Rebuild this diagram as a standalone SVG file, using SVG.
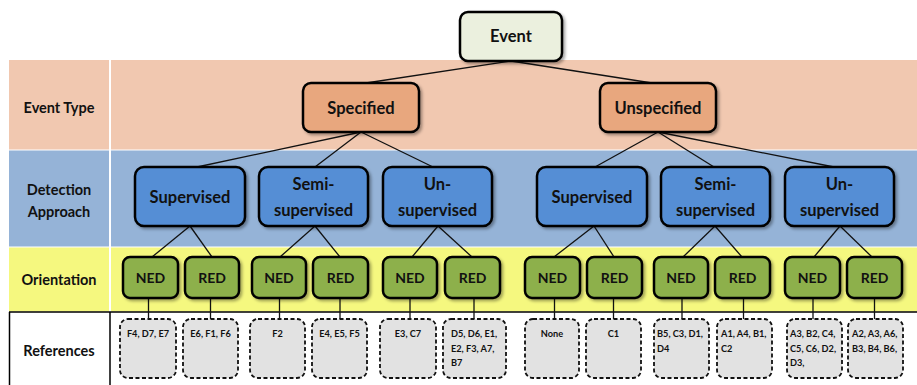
<svg xmlns="http://www.w3.org/2000/svg" width="917" height="385" viewBox="0 0 917 385">
<defs>
<filter id="sh" x="-10%" y="-10%" width="130%" height="140%">
<feDropShadow dx="2" dy="2" stdDeviation="1.5" flood-color="#000" flood-opacity="0.35"/>
</filter>
<style>
text{font-family:Lato,"Open Sans","Liberation Sans",sans-serif;font-weight:bold;fill:#111;text-anchor:middle}
.lab{font-size:14.5px}
.n{stroke:#000;stroke-width:2.5;filter:url(#sh)}
.ev{fill:#ebf0de}
.ty{fill:#e8a77e}
.da{fill:#558ed5}
.or{fill:#8db04b}
.big{font-size:16.5px}
.mid{font-size:14px}
.ref{fill:#e2e2e2;stroke:#111;stroke-width:1.8;stroke-dasharray:4 2.5}
.rt{font-size:9.2px}
.rl{font-size:9.2px;text-anchor:start}
.c line{stroke:#111;stroke-width:1.3}
</style>
</defs>
<rect width="917" height="385" fill="#fff"/>
<!-- bands -->
<g id="bands">
<rect x="9" y="60" width="100" height="89.5" fill="#f1c8b0"/>
<rect x="111" y="60" width="806" height="89.5" fill="#f1c8b0"/>
<rect x="9" y="150.5" width="100" height="96" fill="#95b3d7"/>
<rect x="111" y="150.5" width="806" height="96" fill="#95b3d7"/>
<rect x="9" y="247.5" width="100" height="64" fill="#f5f87f"/>
<rect x="111" y="247.5" width="806" height="64" fill="#f5f87f"/>
<line x1="9" y1="312" x2="917" y2="312" stroke="#000" stroke-width="1.5"/>
<line x1="9.5" y1="312" x2="9.5" y2="385" stroke="#000" stroke-width="1.5"/>
<line x1="110" y1="312" x2="110" y2="385" stroke="#000" stroke-width="1.5"/>
<text class="lab" x="59" y="113">Event Type</text>
<text class="lab" x="59" y="195">Detection</text>
<text class="lab" x="59" y="217">Approach</text>
<text class="lab" x="59" y="285">Orientation</text>
<text class="lab" x="59" y="356">References</text>
</g>
<!-- connectors -->
<g id="connectors" class="c">
<line x1="511" y1="61" x2="366" y2="83"/>
<line x1="511" y1="61" x2="652" y2="83"/>
<line x1="361" y1="132" x2="197" y2="167"/>
<line x1="361" y1="132" x2="315" y2="167"/>
<line x1="361" y1="132" x2="433" y2="167"/>
<line x1="658" y1="132" x2="595" y2="167"/>
<line x1="658" y1="132" x2="714" y2="167"/>
<line x1="658" y1="132" x2="834" y2="167"/>
<line x1="190" y1="226" x2="152" y2="257"/>
<line x1="190" y1="226" x2="212" y2="257"/>
<line x1="315" y1="226" x2="280" y2="257"/>
<line x1="315" y1="226" x2="340" y2="257"/>
<line x1="438" y1="226" x2="412" y2="257"/>
<line x1="438" y1="226" x2="472" y2="257"/>
<line x1="594" y1="226" x2="554" y2="257"/>
<line x1="594" y1="226" x2="614" y2="257"/>
<line x1="715" y1="226" x2="683" y2="257"/>
<line x1="715" y1="226" x2="742" y2="257"/>
<line x1="840" y1="226" x2="814" y2="257"/>
<line x1="840" y1="226" x2="872" y2="257"/>
<line x1="148.5" y1="298" x2="148.5" y2="319"/>
<line x1="210.5" y1="298" x2="210.5" y2="319"/>
<line x1="279.5" y1="298" x2="279.5" y2="319"/>
<line x1="340" y1="298" x2="340" y2="319"/>
<line x1="410" y1="298" x2="410" y2="319"/>
<line x1="474" y1="298" x2="474" y2="319"/>
<line x1="554.5" y1="298" x2="554.5" y2="319"/>
<line x1="613.5" y1="298" x2="613.5" y2="319"/>
<line x1="682" y1="298" x2="682" y2="319"/>
<line x1="743.5" y1="298" x2="743.5" y2="319"/>
<line x1="813" y1="298" x2="813" y2="319"/>
<line x1="874.5" y1="298" x2="874.5" y2="319"/>
</g>
<!-- nodes -->
<g id="event"><rect class="n ev" x="460" y="12" width="102" height="49" rx="8"/><text class="big" x="511" y="42">Event</text></g>
<g id="specified"><rect class="n ty" x="303" y="83" width="116" height="49" rx="8"/><text class="big" x="361" y="114">Specified</text></g>
<g id="unspecified"><rect class="n ty" x="600" y="83" width="116" height="49" rx="8"/><text class="big" x="658" y="114">Unspecified</text></g>

<g id="s-sup"><rect class="n da" x="135" y="167" width="110" height="59" rx="9"/><text class="big" x="190" y="203">Supervised</text></g>
<g id="s-semi"><rect class="n da" x="259" y="167" width="109" height="59" rx="9"/><text class="big" x="313.5" y="190">Semi-</text><text class="big" x="313.5" y="216">supervised</text></g>
<g id="s-un"><rect class="n da" x="383" y="167" width="109" height="59" rx="9"/><text class="big" x="437.5" y="190">Un-</text><text class="big" x="437.5" y="216">supervised</text></g>
<g id="u-sup"><rect class="n da" x="537" y="167" width="110" height="59" rx="9"/><text class="big" x="592" y="203">Supervised</text></g>
<g id="u-semi"><rect class="n da" x="661" y="167" width="109" height="59" rx="9"/><text class="big" x="715.5" y="190">Semi-</text><text class="big" x="715.5" y="216">supervised</text></g>
<g id="u-un"><rect class="n da" x="785" y="167" width="109" height="59" rx="9"/><text class="big" x="839.5" y="190">Un-</text><text class="big" x="839.5" y="216">supervised</text></g>

<g id="o1"><rect class="n or" x="123" y="257" width="55" height="41" rx="7"/><text class="mid" x="150.5" y="283">NED</text></g>
<g id="o2"><rect class="n or" x="185" y="257" width="54" height="41" rx="7"/><text class="mid" x="212" y="283">RED</text></g>
<g id="o3"><rect class="n or" x="252" y="257" width="54" height="41" rx="7"/><text class="mid" x="279" y="283">NED</text></g>
<g id="o4"><rect class="n or" x="313" y="257" width="55" height="41" rx="7"/><text class="mid" x="340.5" y="283">RED</text></g>
<g id="o5"><rect class="n or" x="383" y="257" width="54" height="41" rx="7"/><text class="mid" x="410" y="283">NED</text></g>
<g id="o6"><rect class="n or" x="445" y="257" width="55" height="41" rx="7"/><text class="mid" x="472.5" y="283">RED</text></g>
<g id="o7"><rect class="n or" x="525" y="257" width="55" height="41" rx="7"/><text class="mid" x="552.5" y="283">NED</text></g>
<g id="o8"><rect class="n or" x="587" y="257" width="55" height="41" rx="7"/><text class="mid" x="614.5" y="283">RED</text></g>
<g id="o9"><rect class="n or" x="654" y="257" width="54" height="41" rx="7"/><text class="mid" x="681" y="283">NED</text></g>
<g id="o10"><rect class="n or" x="715" y="257" width="55" height="41" rx="7"/><text class="mid" x="742.5" y="283">RED</text></g>
<g id="o11"><rect class="n or" x="785" y="257" width="55" height="41" rx="7"/><text class="mid" x="812.5" y="283">NED</text></g>
<g id="o12"><rect class="n or" x="847" y="257" width="55" height="41" rx="7"/><text class="mid" x="874.5" y="283">RED</text></g>

<g id="r1"><rect class="ref" x="120" y="319" width="56" height="59" rx="8"/><text class="rt" x="148" y="337">F4, D7, E7</text></g>
<g id="r2"><rect class="ref" x="183" y="319" width="55" height="59" rx="8"/><text class="rt" x="210.5" y="337">E6, F1, F6</text></g>
<g id="r3"><rect class="ref" x="250" y="319" width="55" height="59" rx="8"/><text class="rt" x="277.5" y="337">F2</text></g>
<g id="r4"><rect class="ref" x="312" y="319" width="55" height="59" rx="8"/><text class="rt" x="339.5" y="337">E4, E5, F5</text></g>
<g id="r5"><rect class="ref" x="380" y="319" width="56" height="59" rx="8"/><text class="rt" x="408" y="337">E3, C7</text></g>
<g id="r6"><rect class="ref" x="443" y="319" width="63" height="59" rx="8"/><text class="rl" x="451" y="337">D5, D6, E1,</text><text class="rl" x="451" y="351.5">E2, F3, A7,</text><text class="rl" x="451" y="366">B7</text></g>
<g id="r7"><rect class="ref" x="525" y="319" width="54" height="59" rx="8"/><text class="rt" x="552" y="337">None</text></g>
<g id="r8"><rect class="ref" x="586" y="319" width="55" height="59" rx="8"/><text class="rt" x="613.5" y="337">C1</text></g>
<g id="r9"><rect class="ref" x="654" y="319" width="55" height="59" rx="8"/><text class="rl" x="657" y="337">B5, C3, D1,</text><text class="rl" x="657" y="351.5">D4</text></g>
<g id="r10"><rect class="ref" x="717" y="319" width="55" height="59" rx="8"/><text class="rl" x="721" y="337">A1, A4, B1,</text><text class="rl" x="721" y="351.5">C2</text></g>
<g id="r11"><rect class="ref" x="787" y="319" width="55" height="59" rx="8"/><text class="rl" x="790" y="337">A3, B2, C4,</text><text class="rl" x="790" y="351.5">C5, C6, D2,</text><text class="rl" x="790" y="366">D3,</text></g>
<g id="r12"><rect class="ref" x="848" y="319" width="55" height="59" rx="8"/><text class="rl" x="852" y="337">A2, A3, A6,</text><text class="rl" x="852" y="351.5">B3, B4, B6,</text></g>
</svg>
